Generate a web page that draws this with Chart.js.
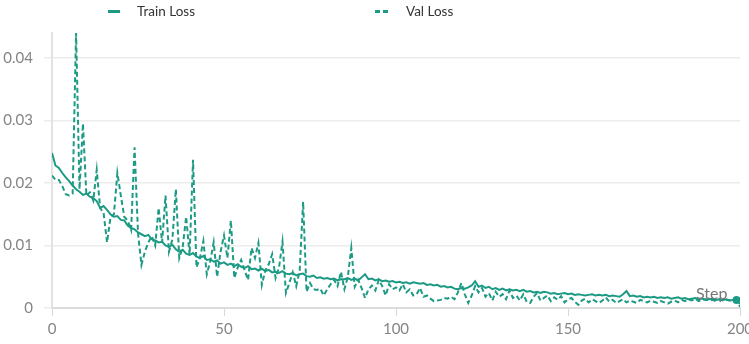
<!DOCTYPE html>
<html>
<head>
<meta charset="utf-8">
<script src="https://cdn.jsdelivr.net/npm/chart.js@4"></script>
<style>
  html, body { margin: 0; padding: 0; background: #fff; }
  #wrap { position: relative; width: 749px; height: 344px; }
  #c { position: absolute; left: 0; top: 0; }
  .leg { position: absolute; top: 2px; font-family: Lato, "Open Sans", sans-serif; font-size: 13.5px; color: #333; line-height: 18px; }
  .mk { position: absolute; top: 10px; height: 3px; }
  #step { position: absolute; left: 696px; top: 283px; font-family: Lato, sans-serif; font-size: 16px; color: #777; }
</style>
</head>
<body>
<div id="wrap">
  <canvas id="c" width="749" height="344"></canvas>
  <div class="mk" style="left:108px;width:12px;background:#1c9a84;"></div>
  <div class="leg" style="left:137px;">Train Loss</div>
  <div class="mk" style="left:375px;width:5px;background:#1c9a84;"></div>
  <div class="mk" style="left:383px;width:5px;background:#1c9a84;"></div>
  <div class="leg" style="left:406px;">Val Loss</div>
  <div id="step">Step</div>
</div>
<script>
const steps = Array.from({length: 201}, (_, i) => i);

const trainLoss = [
  0.0248,0.0228,0.0224,0.0216,0.0209,0.0203,0.0196,0.0190,0.0186,0.0181,
  0.0183,0.0178,0.0176,0.0171,0.0160,0.0163,0.0157,0.0150,0.0146,0.0147,
  0.0141,0.0140,0.0132,0.0128,0.0126,0.0121,0.0118,0.0115,0.0117,0.0110,
  0.0108,0.0105,0.0106,0.0100,0.0098,0.0101,0.0094,0.0090,0.0093,0.0087,
  0.0085,0.0088,0.0082,0.0080,0.0083,0.0077,0.0078,0.0074,0.0076,0.0071,
  0.0073,0.0069,0.0071,0.0067,0.0070,0.0066,0.0064,0.0067,0.0062,0.0063,
  0.0060,0.0063,0.0059,0.0061,0.0057,0.0058,0.0056,0.0059,0.0055,0.0054,
  0.0056,0.0052,0.0054,0.0055,0.0051,0.0050,0.0052,0.0048,0.0049,0.0047,
  0.0048,0.0046,0.0047,0.0044,0.0046,0.0046,0.0048,0.0045,0.0047,0.0044,
  0.0049,0.0054,0.0046,0.0047,0.0044,0.0046,0.0043,0.0044,0.0042,0.0043,
  0.0041,0.0042,0.0040,0.0041,0.0039,0.0041,0.0040,0.0039,0.0040,0.0037,
  0.0038,0.0036,0.0037,0.0034,0.0035,0.0033,0.0034,0.0031,0.0030,0.0032,
  0.0031,0.0033,0.0036,0.0043,0.0034,0.0036,0.0032,0.0034,0.0030,0.0032,
  0.0029,0.0031,0.0028,0.0030,0.0028,0.0029,0.0027,0.0029,0.0026,0.0027,
  0.0025,0.0026,0.0024,0.0026,0.0025,0.0023,0.0024,0.0022,0.0023,0.0024,
  0.0022,0.0023,0.0021,0.0022,0.0021,0.0020,0.0021,0.0022,0.0020,0.0021,
  0.0020,0.0021,0.0019,0.0020,0.0019,0.0018,0.0022,0.0027,0.0019,0.0020,
  0.0018,0.0019,0.0017,0.0018,0.0017,0.0018,0.0016,0.0017,0.0016,0.0017,
  0.0015,0.0016,0.0017,0.0015,0.0016,0.0014,0.0015,0.0016,0.0014,0.0015,
  0.0013,0.0014,0.0015,0.0013,0.0014,0.0013,0.0014,0.0012,0.0013,0.0013,
  0.0006
];

const valLoss = [
  0.0212,0.0205,0.0205,0.0195,0.0182,0.0180,0.0183,0.0440,0.0190,0.0295,
  0.0180,0.0185,0.0172,0.0221,0.0160,0.0152,0.0105,0.0145,0.0150,0.0216,
  0.0180,0.0146,0.0140,0.0125,0.0257,0.0120,0.0069,0.0090,0.0105,0.0115,
  0.0100,0.0160,0.0105,0.0180,0.0090,0.0110,0.0190,0.0080,0.0098,0.0146,
  0.0085,0.0237,0.0065,0.0080,0.0107,0.0054,0.0075,0.0105,0.0050,0.0090,
  0.0116,0.0080,0.0140,0.0048,0.0065,0.0077,0.0060,0.0045,0.0096,0.0080,
  0.0104,0.0037,0.0060,0.0070,0.0086,0.0048,0.0065,0.0106,0.0024,0.0040,
  0.0057,0.0035,0.0060,0.0170,0.0026,0.0040,0.0030,0.0029,0.0031,0.0020,
  0.0030,0.0038,0.0045,0.0035,0.0058,0.0030,0.0050,0.0096,0.0034,0.0045,
  0.0032,0.0016,0.0030,0.0036,0.0028,0.0045,0.0035,0.0020,0.0038,0.0030,
  0.0033,0.0028,0.0038,0.0025,0.0030,0.0020,0.0022,0.0032,0.0018,0.0020,
  0.0015,0.0011,0.0012,0.0013,0.0016,0.0015,0.0018,0.0014,0.0025,0.0040,
  0.0022,0.0008,0.0020,0.0035,0.0025,0.0032,0.0018,0.0024,0.0012,0.0026,
  0.0018,0.0022,0.0014,0.0028,0.0016,0.0020,0.0012,0.0022,0.0010,0.0008,
  0.0018,0.0024,0.0012,0.0016,0.0020,0.0011,0.0017,0.0013,0.0019,0.0009,
  0.0014,0.0016,0.0010,0.0005,0.0012,0.0015,0.0009,0.0014,0.0011,0.0008,
  0.0012,0.0017,0.0010,0.0013,0.0008,0.0011,0.0014,0.0009,0.0012,0.0010,
  0.0008,0.0013,0.0011,0.0009,0.0012,0.0010,0.0008,0.0011,0.0009,0.0007,
  0.0010,0.0012,0.0009,0.0013,0.0011,0.0014,0.0012,0.0015,0.0011,0.0013,
  0.0014,0.0012,0.0013,0.0011,0.0014,0.0012,0.0013,0.0012,0.0014,0.0010,
  0.0002
];

const xTicks = [0, 50, 100, 150, 200];
const yTicks = [0, 0.01, 0.02, 0.03, 0.04];

const teal = '#1c9a84';
const tickFont = { family: 'Lato, "Open Sans", sans-serif', size: 15 };

new Chart(document.getElementById('c'), {
  type: 'line',
  data: {
    datasets: [
      {
        label: 'Train Loss',
        data: steps.map((s, i) => ({ x: s, y: trainLoss[i] })),
        borderColor: teal,
        backgroundColor: teal,
        borderWidth: 2,
        pointRadius: steps.map(i => i === 199 ? 3 : 0),
        tension: 0
      },
      {
        label: 'Val Loss',
        data: steps.map((s, i) => ({ x: s, y: valLoss[i] })),
        borderColor: teal,
        backgroundColor: teal,
        borderWidth: 2,
        borderDash: [5, 3],
        pointRadius: 0,
        tension: 0
      }
    ]
  },
  options: {
    responsive: false,
    animation: false,
    layout: { padding: { top: 33, right: 9, left: 0, bottom: 0 } },
    plugins: { legend: { display: false }, tooltip: { enabled: false } },
    scales: {
      x: {
        type: 'linear',
        min: 0, max: 200,
        afterBuildTicks: s => { s.ticks = xTicks.map(v => ({ value: v })); },
        afterFit: s => { s.height = 36; s.paddingLeft = 0; s.paddingRight = 0; },
        ticks: { color: '#858585', font: tickFont, padding: 4, maxRotation: 0 },
        grid: { drawOnChartArea: false, tickLength: 8, color: '#d8d8d8' },
        border: { color: '#dcdcdc', width: 2 }
      },
      y: {
        min: 0, max: 0.044,
        afterBuildTicks: s => { s.ticks = yTicks.map(v => ({ value: v })); },
        afterFit: s => { s.width = 52; s.paddingTop = 0; s.paddingBottom = 0; },
        ticks: { color: '#858585', font: tickFont, padding: 11,
          callback: v => String(Math.round(v * 100) / 100) },
        grid: { color: '#ececec', tickLength: 8, lineWidth: 1.5 },
        border: { color: '#e2e2e2', width: 2 }
      }
    }
  }
});
</script>
</body>
</html>
